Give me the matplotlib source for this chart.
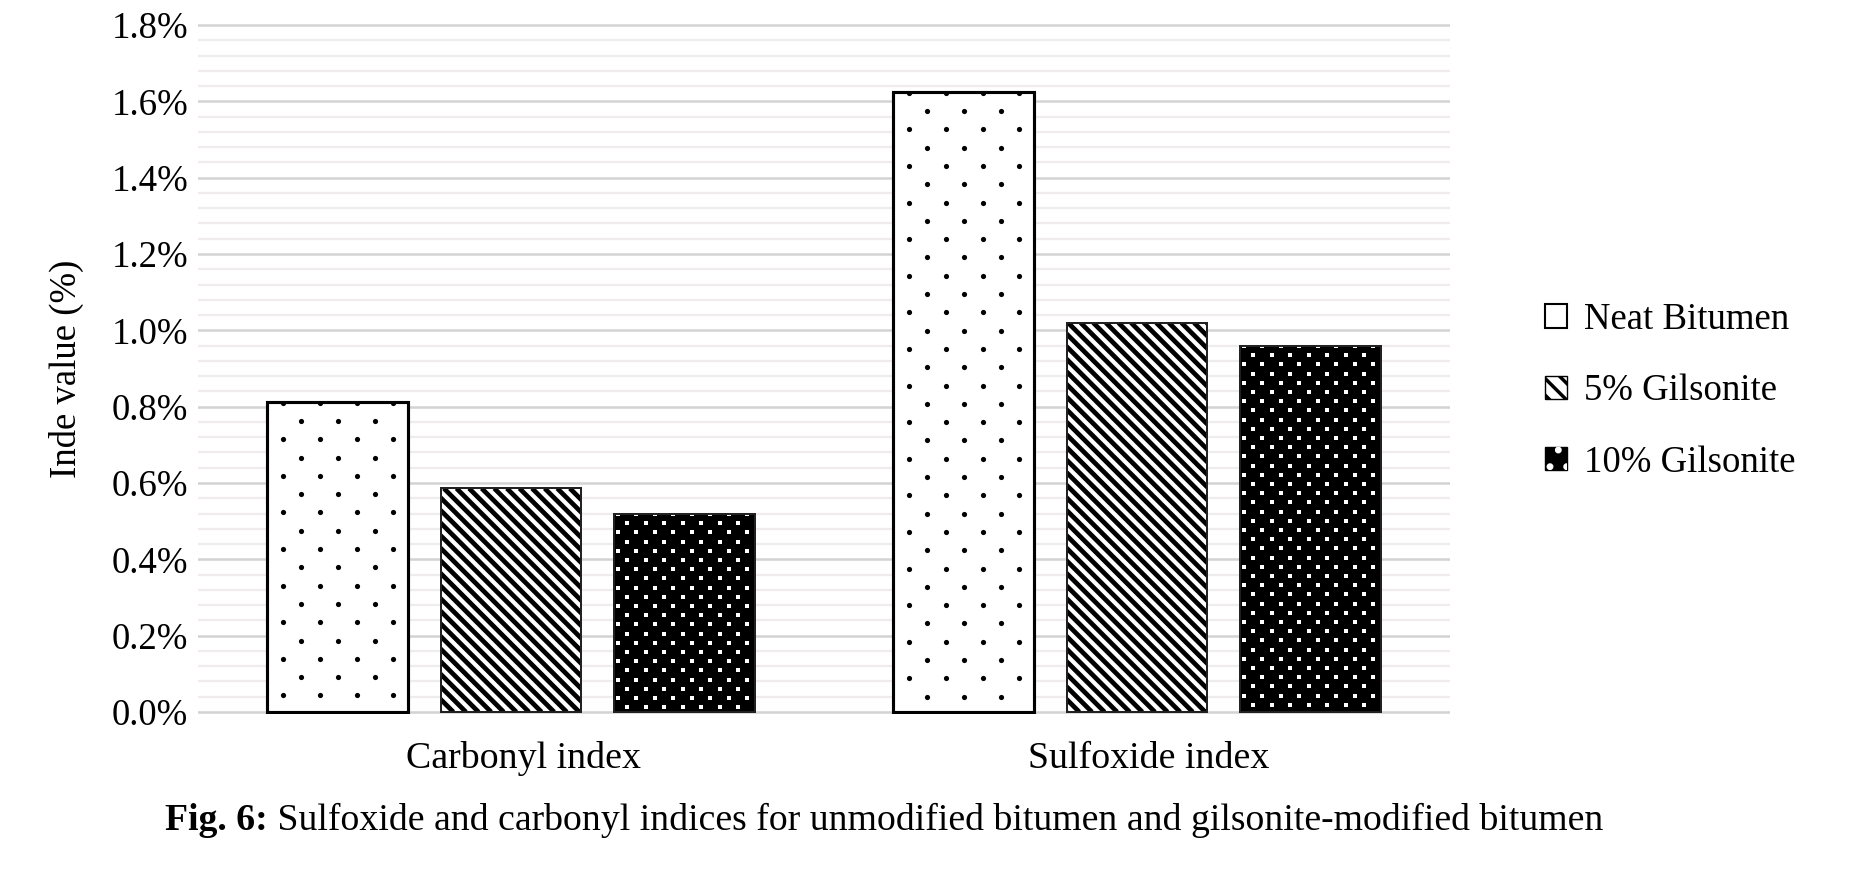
import numpy as np
import matplotlib.pyplot as plt
import matplotlib.transforms as mtransforms
from matplotlib.collections import LineCollection
from matplotlib.patches import Patch
from matplotlib.legend_handler import HandlerTuple
from matplotlib.ticker import MultipleLocator, FuncFormatter

# data (index value in %)
categories = ['Carbonyl index', 'Sulfoxide index']
series = ['Neat Bitumen', '5% Gilsonite', '10% Gilsonite']
neat = [0.813, 1.625]
gil5 = [0.586, 1.02]
gil10 = [0.52, 0.96]
y_max = 1.8
caption_bold = 'Fig. 6:'
caption_rest = ' Sulfoxide and carbonyl indices for unmodified bitumen and gilsonite-modified bitumen'

plt.rcParams['font.family'] = ['Liberation Serif', 'DejaVu Serif']
plt.rcParams['hatch.linewidth'] = 2.5
fs = 26.5

W, H = 1852, 876
fig = plt.figure(figsize=(W / 100, H / 100), dpi=100)

# axes placed from pixel positions of 0% and 1.8% lines
pad = 0.004
y0_px, ytop_px = 712, 25
ppu = (y0_px - ytop_px) / y_max
bottom_px = y0_px + pad * ppu
top_px = ytop_px - pad * ppu
ax = fig.add_axes([198 / W, 1 - bottom_px / H, (1450 - 198) / W, (bottom_px - top_px) / H])
ax.set_xlim(-0.5, 1.5)
ax.set_ylim(-pad, y_max + pad)

x = np.arange(len(categories))
step = 0.277
width = 0.2245

b_neat = ax.bar(x - step, neat, width, color='white', edgecolor='black', linewidth=2.2, zorder=2)
b_g5 = ax.bar(x, gil5, width, color='white', edgecolor='#222222', linewidth=1.4, zorder=2)
b_g10 = ax.bar(x + step, gil10, width, color='black', edgecolor='#222222', linewidth=1.4, zorder=2)

ident = mtransforms.IdentityTransform()


def bar_box(bar):
    (x0, y0), (x1, y1) = ax.transData.transform(
        [(bar.get_x(), bar.get_y()),
         (bar.get_x() + bar.get_width(), bar.get_y() + bar.get_height())])
    return x0, y0, x1, y1


def dot_fill(bar, dx, dy, phase, color, size, marker):
    x0, y0, x1, y1 = bar_box(bar)
    xs, ys = [], []
    for i, yy in enumerate(np.arange(y1 - 0.05 * dy, y0, -dy)):
        start = x0 + ((phase + 0.5 * (i % 2)) % 1) * dx
        for xx in np.arange(start, x1, dx):
            xs.append(xx)
            ys.append(yy)
    sc = ax.scatter(xs, ys, s=size, c=color, marker=marker, linewidths=0,
                    transform=ident, zorder=2.5)
    sc.set_clip_path(bar)


def stripe_fill(bar, period, lw):
    x0, y0, x1, y1 = bar_box(bar)
    h = y1 - y0
    segs = [[(c, y1), (c + h, y0)] for c in np.arange(x0 - h, x1 + period, period)]
    lc = LineCollection(segs, colors='black', linewidths=lw, transform=ident, zorder=2.5)
    ax.add_collection(lc, autolim=False)
    lc.set_clip_path(bar)


for bar in b_neat:
    dot_fill(bar, 36.7, 18.3, 0.43, 'black', 14, 'o')
for bar in b_g5:
    stripe_fill(bar, 12.6, 3.4)
for bar in b_g10:
    dot_fill(bar, 18.5, 9.2, 0.2, 'white', 11, 's')

# outlines on top of textures
for bars, lw, ec in [(b_neat, 2.2, 'black'), (b_g5, 1.4, '#222222'), (b_g10, 1.4, '#222222')]:
    for bar in bars:
        ax.add_patch(plt.Rectangle(bar.get_xy(), bar.get_width(), bar.get_height(),
                                   fill=False, edgecolor=ec, linewidth=lw, zorder=3))

ax.yaxis.set_major_locator(MultipleLocator(0.2))
ax.yaxis.set_minor_locator(MultipleLocator(0.04))
ax.yaxis.set_major_formatter(FuncFormatter(lambda v, p: f'{v:.1f}%'))
ax.set_xticks(x)
ax.set_xticklabels(categories)
ax.tick_params(which='both', length=0)
ax.tick_params(axis='y', labelsize=fs, pad=7)
ax.tick_params(axis='x', labelsize=27.3, pad=20)
# category labels sit a little right of the group centres in the original
shift = mtransforms.ScaledTranslation(0.12, 0, fig.dpi_scale_trans)
for lab in ax.get_xticklabels():
    lab.set_transform(lab.get_transform() + shift)
ax.grid(axis='y', which='major', color='#d3d3d3', linewidth=1.8)
ax.grid(axis='y', which='minor', color='#f1ecec', linewidth=1.6)
ax.set_axisbelow(True)
for s in ax.spines.values():
    s.set_visible(False)
ax.set_ylabel('Inde value (%)', fontsize=fs, labelpad=20)

h_neat = Patch(facecolor='white', edgecolor='black', linewidth=1.5)
h_g5 = Patch(facecolor='white', edgecolor='black', hatch='\\\\', linewidth=1.0)
h_g10 = (Patch(facecolor='black', edgecolor='black'),
         Patch(fill=False, edgecolor='white', hatch='.', linewidth=0))
fig.legend([h_neat, h_g5, h_g10], series, loc='center left',
           bbox_to_anchor=(1512 / W, 1 - 391 / H), frameon=False, fontsize=fs,
           handlelength=0.6, handleheight=0.6, handletextpad=0.45, labelspacing=1.0,
           handler_map={tuple: HandlerTuple(ndivide=1, pad=0)})

t1 = fig.text(165 / W, 1 - 838 / H, caption_bold, fontsize=27.2, weight='bold', va='bottom')
ax.annotate(caption_rest, xy=(1, 0), xycoords=t1, va='bottom', fontsize=27.2,
            annotation_clip=False)

fig.savefig('out.png', dpi=100)
